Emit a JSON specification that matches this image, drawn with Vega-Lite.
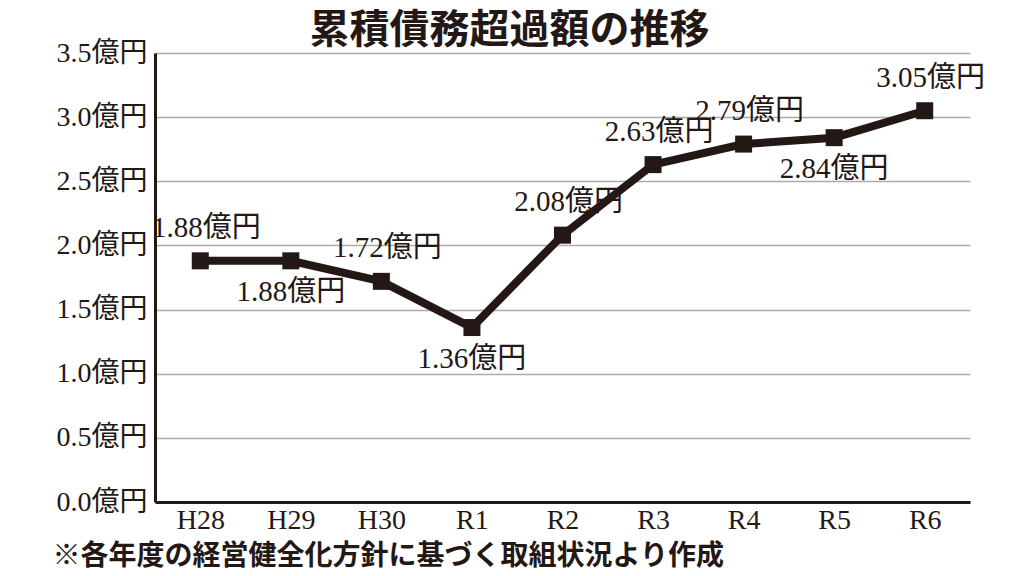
{
  "$schema": "https://vega.github.io/schema/vega-lite/v6.json",
  "width": 815,
  "height": 449,
  "autosize": {"type": "none"},
  "padding": {"left": 155, "top": 53, "right": 54, "bottom": 74},
  "background": "white",
  "title": {
    "text": "累積債務超過額の推移",
    "font": "Noto Sans CJK JP",
    "fontSize": 40,
    "fontWeight": "bold",
    "color": "#231815",
    "anchor": "middle",
    "dx": -53,
    "offset": -12
  },
  "config": {
    "view": {"stroke": null},
    "text": {"font": "'Liberation Serif', 'Noto Sans CJK JP'"}
  },
  "data": {
    "values": [
      {"year": "H28", "value": 1.88},
      {"year": "H29", "value": 1.88},
      {"year": "H30", "value": 1.72},
      {"year": "R1", "value": 1.36},
      {"year": "R2", "value": 2.08},
      {"year": "R3", "value": 2.63},
      {"year": "R4", "value": 2.79},
      {"year": "R5", "value": 2.84},
      {"year": "R6", "value": 3.05}
    ]
  },
  "encoding": {
    "x": {
      "field": "year",
      "type": "ordinal",
      "sort": null,
      "scale": {"type": "point", "padding": 0.5},
      "axis": {
        "title": "※各年度の経営健全化方針に基づく取組状況より作成",
        "titleFont": "Noto Sans CJK JP",
        "titleFontSize": 28,
        "titleFontWeight": "bold",
        "titleColor": "#231815",
        "titleX": -103,
        "titleY": 54,
        "titleAlign": "left",
        "titleBaseline": "middle",
        "labelAngle": 0,
        "labelFont": "Liberation Serif",
        "labelFontSize": 28,
        "labelColor": "#231815",
        "labelPadding": 4,
        "ticks": false,
        "grid": false,
        "domain": true,
        "domainColor": "#231815",
        "domainWidth": 3
      }
    },
    "y": {
      "field": "value",
      "type": "quantitative",
      "scale": {"domain": [0, 3.5]},
      "axis": {
        "title": null,
        "values": [0, 0.5, 1, 1.5, 2, 2.5, 3, 3.5],
        "labelExpr": "format(datum.value, '.1f') + '億円'",
        "labelFont": "'Liberation Serif', 'Noto Sans CJK JP'",
        "labelFontSize": 28,
        "labelColor": "#231815",
        "labelPadding": 8,
        "ticks": false,
        "grid": true,
        "gridColor": "#aaaaaa",
        "gridWidth": 1.5,
        "domain": true,
        "domainColor": "#231815",
        "domainWidth": 3
      }
    }
  },
  "layer": [
    {"mark": {"type": "line", "color": "#231815", "strokeWidth": 8}},
    {"mark": {"type": "point", "shape": "square", "filled": true, "size": 289, "color": "#231815", "opacity": 1}},
    {
      "transform": [
        {"filter": {"not": {"field": "year", "oneOf": ["H29", "R1", "R5"]}}},
        {"calculate": "format(datum.value, '.2f') + '億円'", "as": "label"}
      ],
      "mark": {"type": "text", "fontSize": 29, "color": "#231815", "dy": -33, "dx": 6, "baseline": "middle"},
      "encoding": {"text": {"field": "label"}}
    },
    {
      "transform": [
        {"filter": {"field": "year", "oneOf": ["H29", "R1", "R5"]}},
        {"calculate": "format(datum.value, '.2f') + '億円'", "as": "label"}
      ],
      "mark": {"type": "text", "fontSize": 29, "color": "#231815", "dy": 31, "baseline": "middle"},
      "encoding": {"text": {"field": "label"}}
    }
  ]
}
